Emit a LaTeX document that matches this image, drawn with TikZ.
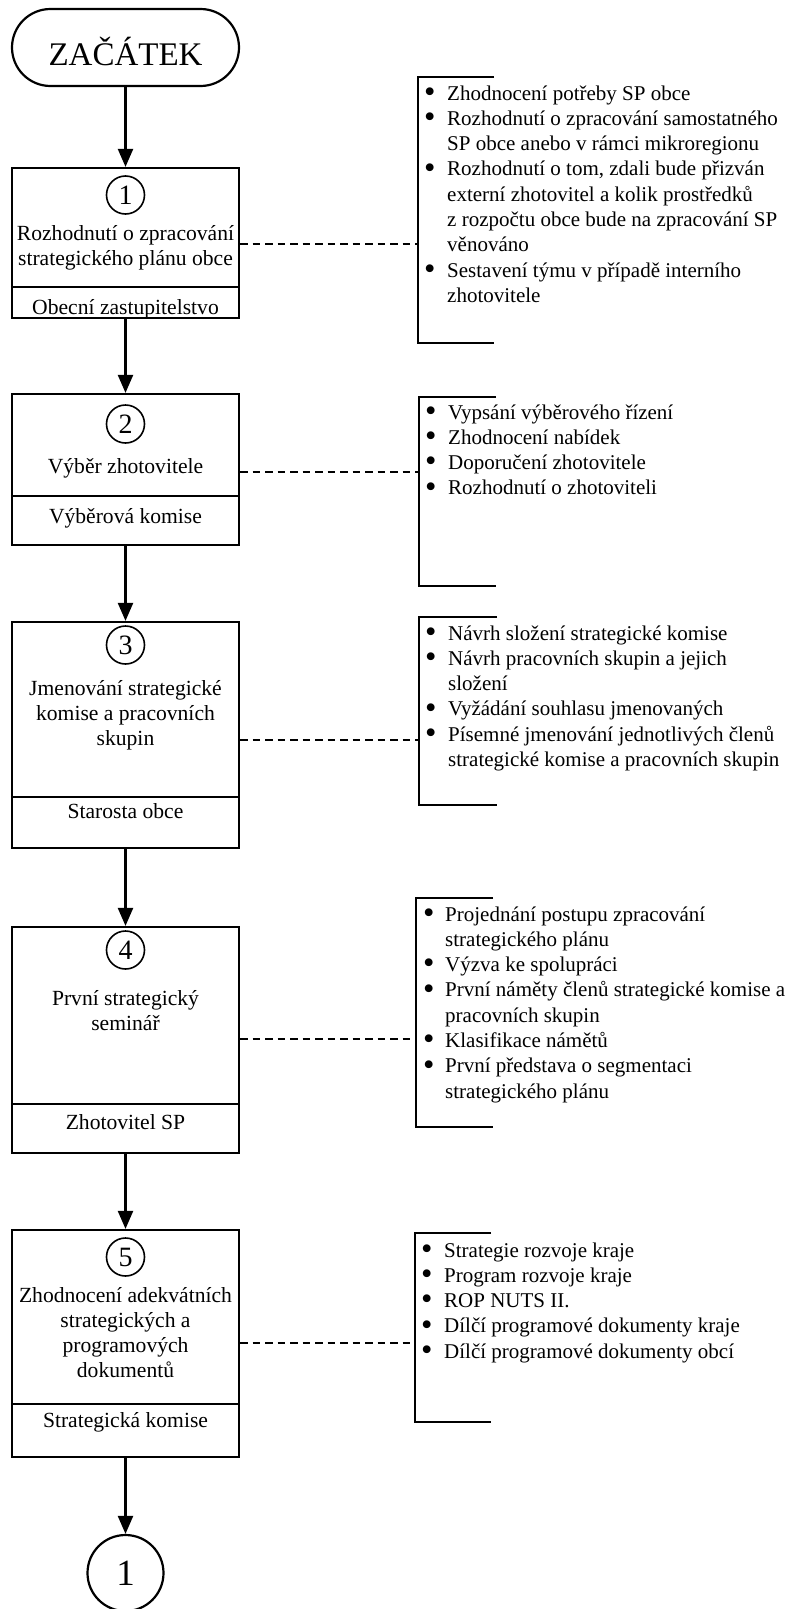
\documentclass[tikz,border=0pt]{standalone}
\usepackage{fontspec}
\usepackage{graphicx}
\setmainfont{Liberation Serif}
\usetikzlibrary{arrows.meta}
\newcommand{\bul}{\smash{\raisebox{-2.2pt}{\scalebox{1.55}{\textbullet}}}}
\begin{document}
\begin{tikzpicture}[x=1pt,y=-1pt,
  txt/.style={font=\fontsize{21}{25.3}\selectfont, inner sep=0pt},
  btxt/.style={font=\fontsize{21.6}{25}\selectfont, inner sep=0pt},
  stepbox/.style={draw, line width=2.2pt, minimum width=227pt, inner sep=0pt},
  num/.style={draw, circle, line width=1.6pt, minimum size=38pt, inner sep=0pt, font=\fontsize{28}{28}\selectfont},
  divline/.style={line width=1.8pt},
  dashline/.style={line width=1.5pt, dash pattern=on 7.5pt off 5pt},
  brk/.style={line width=2.2pt},
  arr/.style={line width=2.2pt, -{Triangle[length=18pt,width=15pt]}}
]
\useasboundingbox (0,0) rectangle (792,1609);

% start terminal
\node[draw, line width=2.2pt, rounded corners=38.5pt, minimum width=227pt, minimum height=77pt,
      inner sep=0pt, text height=35pt, text depth=0pt, font=\fontsize{33}{33}\selectfont] (start) at (125.5,47.5) {ZAČÁTEK};

% ---------- step 1
\node[stepbox, minimum height=150pt] (b1) at (125.5,243) {};
\coordinate (v1) at (0,287);
\draw[divline] (b1.west |- v1) -- (b1.east |- v1);
\node[num] (n1) at (125.5,195) {1};
\node[btxt, anchor=base] (t1) at (125.5,240) {\begin{tabular}[t]{@{}c@{}}Rozhodnutí o zpracování\\strategického plánu obce\end{tabular}};
\node[btxt, anchor=base] (l1) at (125.5,314) {Obecní zastupitelstvo};
\coordinate (k1) at (418,244);
\draw[brk] (494,77) -- (418,77) -- (418,343) -- (494,343);
\draw[dashline] (b1.east |- k1) -- (k1);
\node[txt, anchor=base west] (L1) at (423.8,100) {\begin{tabular}[t]{@{}l@{}l@{}}
\makebox[23.2pt][l]{\bul}&Zhodnocení potřeby SP obce\\
\bul&Rozhodnutí o zpracování samostatného\\
&SP obce anebo v rámci mikroregionu\\
\bul&Rozhodnutí o tom, zdali bude přizván\\
&externí zhotovitel a kolik prostředků\\
&z rozpočtu obce bude na zpracování SP\\
&věnováno\\
\bul&Sestavení týmu v případě interního\\
&zhotovitele
\end{tabular}};

% ---------- step 2
\node[stepbox, minimum height=151pt] (b2) at (125.5,469.5) {};
\coordinate (v2) at (0,496);
\draw[divline] (b2.west |- v2) -- (b2.east |- v2);
\node[num] (n2) at (125.5,424) {2};
\node[btxt, anchor=base] (t2) at (125.5,473) {Výběr zhotovitele};
\node[btxt, anchor=base] (l2) at (125.5,523) {Výběrová komise};
\coordinate (k2) at (419,472);
\draw[brk] (496,397) -- (419,397) -- (419,586) -- (496,586);
\draw[dashline] (b2.east |- k2) -- (k2);
\node[txt, anchor=base west] (L2) at (424.8,419) {\begin{tabular}[t]{@{}l@{}l@{}}
\makebox[23.2pt][l]{\bul}&Vypsání výběrového řízení\\
\bul&Zhodnocení nabídek\\
\bul&Doporučení zhotovitele\\
\bul&Rozhodnutí o zhotoviteli
\end{tabular}};

% ---------- step 3
\node[stepbox, minimum height=226pt] (b3) at (125.5,735) {};
\coordinate (v3) at (0,797);
\draw[divline] (b3.west |- v3) -- (b3.east |- v3);
\node[num] (n3) at (125.5,645) {3};
\node[btxt, anchor=base] (t3) at (125.5,695) {\begin{tabular}[t]{@{}c@{}}Jmenování strategické\\komise a pracovních\\skupin\end{tabular}};
\node[btxt, anchor=base] (l3) at (125.5,818) {Starosta obce};
\coordinate (k3) at (419,740);
\draw[brk] (497,617) -- (419,617) -- (419,805) -- (497,805);
\draw[dashline] (b3.east |- k3) -- (k3);
\node[txt, anchor=base west] (L3) at (424.8,640) {\begin{tabular}[t]{@{}l@{}l@{}}
\makebox[23.2pt][l]{\bul}&Návrh složení strategické komise\\
\bul&Návrh pracovních skupin a jejich\\
&složení\\
\bul&Vyžádání souhlasu jmenovaných\\
\bul&Písemné jmenování jednotlivých členů\\
&strategické komise a pracovních skupin
\end{tabular}};

% ---------- step 4
\node[stepbox, minimum height=226pt] (b4) at (125.5,1040) {};
\coordinate (v4) at (0,1104);
\draw[divline] (b4.west |- v4) -- (b4.east |- v4);
\node[num] (n4) at (125.5,950) {4};
\node[btxt, anchor=base] (t4) at (125.5,1005) {\begin{tabular}[t]{@{}c@{}}První strategický\\seminář\end{tabular}};
\node[btxt, anchor=base] (l4) at (125.5,1129) {Zhotovitel SP};
\coordinate (k4) at (416,1039);
\draw[brk] (493,898) -- (416,898) -- (416,1127) -- (493,1127);
\draw[dashline] (b4.east |- k4) -- (k4);
\node[txt, anchor=base west] (L4) at (422.8,921) {\begin{tabular}[t]{@{}l@{}l@{}}
\makebox[22.2pt][l]{\bul}&Projednání postupu zpracování\\
&strategického plánu\\
\bul&Výzva ke spolupráci\\
\bul&První náměty členů strategické komise a\\
&pracovních skupin\\
\bul&Klasifikace námětů\\
\bul&První představa o segmentaci\\
&strategického plánu
\end{tabular}};

% ---------- step 5
\node[stepbox, minimum height=227pt] (b5) at (125.5,1343.5) {};
\coordinate (v5) at (0,1404);
\draw[divline] (b5.west |- v5) -- (b5.east |- v5);
\node[num] (n5) at (125.5,1257) {5};
\node[btxt, anchor=base] (t5) at (125.5,1302) {\begin{tabular}[t]{@{}c@{}}Zhodnocení adekvátních\\strategických a\\programových\\dokumentů\end{tabular}};
\node[btxt, anchor=base] (l5) at (125.5,1427) {Strategická komise};
\coordinate (k5) at (415,1343);
\draw[brk] (491,1233) -- (415,1233) -- (415,1422) -- (491,1422);
\draw[dashline] (b5.east |- k5) -- (k5);
\node[txt, anchor=base west] (L5) at (420.8,1257) {\begin{tabular}[t]{@{}l@{}l@{}}
\makebox[23.2pt][l]{\bul}&Strategie rozvoje kraje\\
\bul&Program rozvoje kraje\\
\bul&ROP NUTS II.\\
\bul&Dílčí programové dokumenty kraje\\
\bul&Dílčí programové dokumenty obcí
\end{tabular}};

% end connector
\node[draw, circle, line width=2.2pt, minimum size=76pt, inner sep=0pt, font=\fontsize{37}{37}\selectfont] (endc) at (125.5,1573) {1};

% arrows
\draw[arr] (start.south) -- (b1.north);
\draw[arr] (b1.south) -- (b2.north);
\draw[arr] (b2.south) -- (b3.north);
\draw[arr] (b3.south) -- (b4.north);
\draw[arr] (b4.south) -- (b5.north);
\draw[arr] (b5.south) -- (endc.north);
\end{tikzpicture}
\end{document}
